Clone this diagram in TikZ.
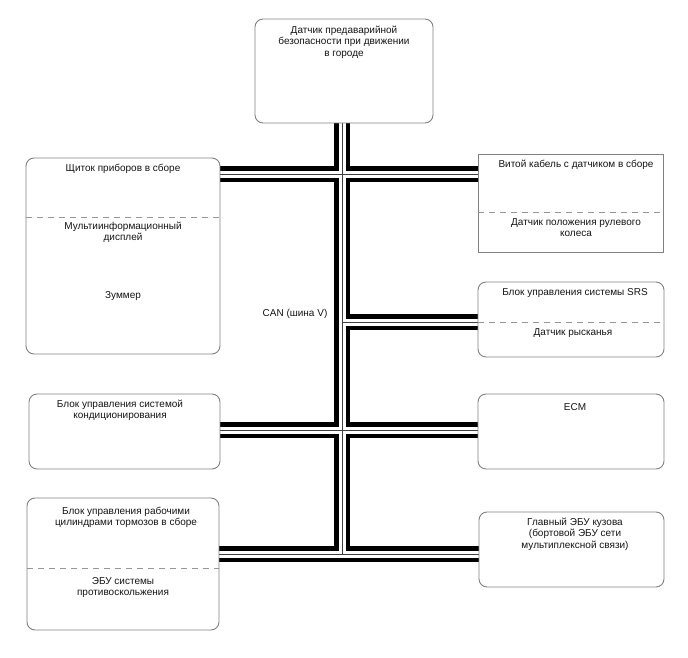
\documentclass[tikz,border=0pt]{standalone}
\usepackage{fontspec}
\setmainfont{Liberation Sans}
\usetikzlibrary{backgrounds}
\definecolor{boxgray}{RGB}{128,128,128}
\definecolor{dashgray}{RGB}{150,150,150}
\definecolor{txt}{RGB}{20,20,20}
\begin{document}
\begin{tikzpicture}[x=1pt,y=-1pt,
  box/.style={draw=boxgray,line width=0.9pt,rounded corners=8pt,inner sep=0pt,outer sep=0pt,anchor=north west},
  sqbox/.style={draw=boxgray,line width=0.9pt,inner sep=0pt,outer sep=0pt,anchor=north west},
  lbl/.style={font=\fontsize{10}{11.5}\selectfont,text=txt,align=center,inner sep=0pt,anchor=north},
  dashline/.style={draw=dashgray,line width=0.9pt,dash pattern=on 6pt off 5pt}]
\useasboundingbox (0,0) rectangle (688,658);
% boxes
\node[box,minimum width=178pt,minimum height=104pt] (top) at (255,19) {};
\node[box,minimum width=194pt,minimum height=196pt] (lb1) at (26,158) {};
\node[sqbox,minimum width=185pt,minimum height=98pt] (rb1) at (478,154) {};
\node[box,minimum width=186pt,minimum height=75pt] (rb2) at (478,282) {};
\node[box,minimum width=191pt,minimum height=75pt] (lb2) at (29,394) {};
\node[box,minimum width=186pt,minimum height=75pt] (rb3) at (478,394) {};
\node[box,minimum width=192pt,minimum height=132pt] (lb3) at (27,498) {};
\node[box,minimum width=185pt,minimum height=75pt] (rb4) at (479,512) {};
% dashed separators
\coordinate (d1) at (0,217);
\coordinate (d2) at (0,212);
\coordinate (d3) at (0,322);
\coordinate (d4) at (0,568);
\draw[dashline] (lb1.west |- d1) -- (lb1.east |- d1);
\draw[dashline] (rb1.west |- d2) -- (rb1.east |- d2);
\draw[dashline] (rb2.west |- d3) -- (rb2.east |- d3);
\draw[dashline] (lb3.west |- d4) -- (lb3.east |- d4);
% texts
\node[lbl] (t0) at (344,25) {\strut Датчик предаварийной\\безопасности при движении\\в городе};
\node[lbl] (t1) at (123,163) {\strut Щиток приборов в сборе};
\node[lbl] (t2) at (123,221) {\strut Мультиинформационный\\дисплей};
\node[lbl] (t3) at (123,290) {\strut Зуммер};
\node[lbl] (t4) at (576,159) {\strut Витой кабель с датчиком в сборе};
\node[lbl] (t5) at (576,217) {\strut Датчик положения рулевого\\колеса};
\node[lbl] (t6) at (575,287) {\strut Блок управления системы SRS};
\node[lbl] (t7) at (573,327) {\strut Датчик рысканья};
\node[lbl] (t8) at (120,399) {\strut Блок управления системой\\кондиционирования};
\node[lbl] (t9) at (575,402) {\strut ECM};
\node[lbl] (t10) at (126,506) {\strut Блок управления рабочими\\цилиндрами тормозов в сборе};
\node[lbl] (t11) at (123,576) {\strut ЭБУ системы\\противоскольжения};
\node[lbl] (t12) at (575,517) {\strut Главный ЭБУ кузова\\(бортовой ЭБУ сети\\мультиплексной связи)};
\node[lbl] (can) at (295,308) {\strut CAN (шина V)};
% bus
\coordinate (j1) at (342,174);
\coordinate (j2) at (342,322);
\coordinate (j3) at (342,430);
\coordinate (j4) at (342,554);
\begin{scope}[on background layer]
\foreach \w/\c in {15.5/black,7/white,0.9/darkgray}{
  \draw[line width=\w pt,\c] (top.south -| j1) -- (j4);
  \draw[line width=\w pt,\c] (lb1.east |- j1) -- (rb1.west |- j1);
  \draw[line width=\w pt,\c] (j2) -- (rb2.west |- j2);
  \draw[line width=\w pt,\c] (lb2.east |- j3) -- (rb3.west |- j3);
  \draw[line width=\w pt,\c] (lb3.east |- j4) -- (rb4.west |- j4);
}
\end{scope}
\end{tikzpicture}
\end{document}
